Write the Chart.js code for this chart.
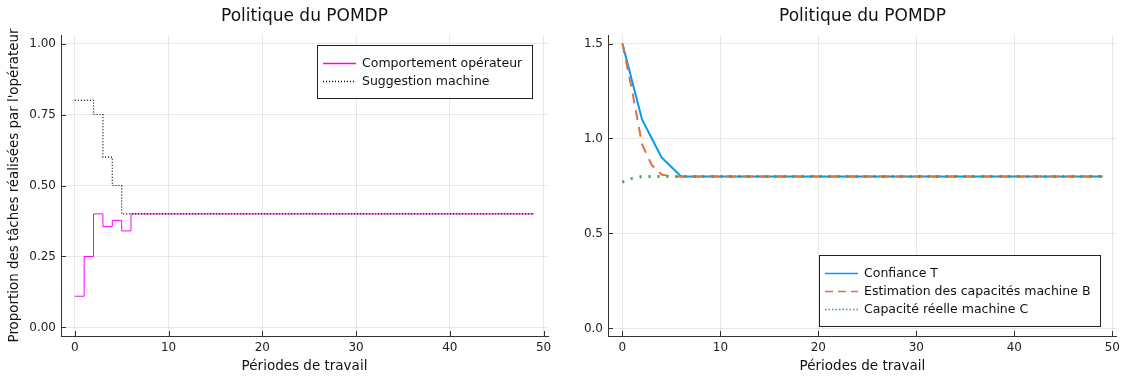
<!DOCTYPE html>
<html>
<head>
<meta charset="utf-8">
<script src="https://cdn.jsdelivr.net/npm/chart.js@4/dist/chart.umd.min.js"></script>
<style>
body { margin: 0; background: #fff; }
#wrap { display: flex; width: 1125px; height: 376px; }
canvas { display: block; }
</style>
</head>
<body>
<div id="wrap">
  <canvas id="leftChart" width="562" height="376"></canvas>
  <canvas id="rightChart" width="563" height="376"></canvas>
</div>
<script>
// periods 0..49
const periods = [
  0, 1, 2, 3, 4, 5, 6, 7, 8, 9,
  10, 11, 12, 13, 14, 15, 16, 17, 18, 19,
  20, 21, 22, 23, 24, 25, 26, 27, 28, 29,
  30, 31, 32, 33, 34, 35, 36, 37, 38, 39,
  40, 41, 42, 43, 44, 45, 46, 47, 48, 49
];

// left plot
const operatorValues = [
  0.11, 0.25, 0.40, 0.355, 0.377, 0.34, 0.40, 0.40, 0.40, 0.40,
  0.40, 0.40, 0.40, 0.40, 0.40, 0.40, 0.40, 0.40, 0.40, 0.40,
  0.40, 0.40, 0.40, 0.40, 0.40, 0.40, 0.40, 0.40, 0.40, 0.40,
  0.40, 0.40, 0.40, 0.40, 0.40, 0.40, 0.40, 0.40, 0.40, 0.40,
  0.40, 0.40, 0.40, 0.40, 0.40, 0.40, 0.40, 0.40, 0.40, 0.40
];
const suggestionValues = [
  0.80, 0.80, 0.75, 0.60, 0.50, 0.40, 0.40, 0.40, 0.40, 0.40,
  0.40, 0.40, 0.40, 0.40, 0.40, 0.40, 0.40, 0.40, 0.40, 0.40,
  0.40, 0.40, 0.40, 0.40, 0.40, 0.40, 0.40, 0.40, 0.40, 0.40,
  0.40, 0.40, 0.40, 0.40, 0.40, 0.40, 0.40, 0.40, 0.40, 0.40,
  0.40, 0.40, 0.40, 0.40, 0.40, 0.40, 0.40, 0.40, 0.40, 0.40
];

// right plot
const confianceT = [
  1.50, 1.30, 1.10, 1.00, 0.90, 0.85, 0.80, 0.80, 0.80, 0.80,
  0.80, 0.80, 0.80, 0.80, 0.80, 0.80, 0.80, 0.80, 0.80, 0.80,
  0.80, 0.80, 0.80, 0.80, 0.80, 0.80, 0.80, 0.80, 0.80, 0.80,
  0.80, 0.80, 0.80, 0.80, 0.80, 0.80, 0.80, 0.80, 0.80, 0.80,
  0.80, 0.80, 0.80, 0.80, 0.80, 0.80, 0.80, 0.80, 0.80, 0.80
];
const estimationB = [
  1.50, 1.25, 0.97, 0.86, 0.81, 0.80, 0.80, 0.80, 0.80, 0.80,
  0.80, 0.80, 0.80, 0.80, 0.80, 0.80, 0.80, 0.80, 0.80, 0.80,
  0.80, 0.80, 0.80, 0.80, 0.80, 0.80, 0.80, 0.80, 0.80, 0.80,
  0.80, 0.80, 0.80, 0.80, 0.80, 0.80, 0.80, 0.80, 0.80, 0.80,
  0.80, 0.80, 0.80, 0.80, 0.80, 0.80, 0.80, 0.80, 0.80, 0.80
];
const capaciteC = [
  0.77, 0.79, 0.80, 0.80, 0.80, 0.80, 0.80, 0.80, 0.80, 0.80,
  0.80, 0.80, 0.80, 0.80, 0.80, 0.80, 0.80, 0.80, 0.80, 0.80,
  0.80, 0.80, 0.80, 0.80, 0.80, 0.80, 0.80, 0.80, 0.80, 0.80,
  0.80, 0.80, 0.80, 0.80, 0.80, 0.80, 0.80, 0.80, 0.80, 0.80,
  0.80, 0.80, 0.80, 0.80, 0.80, 0.80, 0.80, 0.80, 0.80, 0.80
];

const xTicks = [0, 10, 20, 30, 40, 50];
const leftYTicks = [0, 0.25, 0.5, 0.75, 1.0];
const rightYTicks = [0, 0.5, 1.0, 1.5];

const FONT = "'DejaVu Sans', sans-serif";
Chart.defaults.font.family = FONT;
Chart.defaults.color = '#222';

function pts(values) {
  return periods.map((p, i) => ({ x: p, y: values[i] }));
}

// small inward tick marks on the axes, like the original
const axisMarks = {
  id: 'axisMarks',
  afterDraw(chart) {
    const ctx = chart.ctx;
    const a = chart.chartArea;
    ctx.save();
    ctx.strokeStyle = '#333';
    ctx.lineWidth = 1;
    chart.scales.x.ticks.forEach(t => {
      const px = Math.round(chart.scales.x.getPixelForValue(t.value)) + 0.5;
      ctx.beginPath();
      ctx.moveTo(px, a.bottom);
      ctx.lineTo(px, a.bottom - 5);
      ctx.stroke();
    });
    chart.scales.y.ticks.forEach(t => {
      const py = Math.round(chart.scales.y.getPixelForValue(t.value)) + 0.5;
      ctx.beginPath();
      ctx.moveTo(a.left, py);
      ctx.lineTo(a.left + 5, py);
      ctx.stroke();
    });
    ctx.restore();
  }
};

// title centred over the plot area
const plotTitle = {
  id: 'plotTitle',
  afterDraw(chart, args, opts) {
    const ctx = chart.ctx;
    const a = chart.chartArea;
    ctx.save();
    ctx.font = '17px ' + FONT;
    ctx.fillStyle = '#111';
    ctx.textAlign = 'center';
    ctx.textBaseline = 'middle';
    ctx.fillText(opts.text, (a.left + a.right) / 2, 17);
    ctx.restore();
  }
};

// boxed legend drawn inside the plot area
const boxLegend = {
  id: 'boxLegend',
  afterDraw(chart, args, opts) {
    const ctx = chart.ctx;
    const a = chart.chartArea;
    const sets = chart.data.datasets;
    ctx.save();
    ctx.font = '12.5px ' + FONT;
    let maxW = 0;
    sets.forEach(d => { maxW = Math.max(maxW, ctx.measureText(d.label).width); });
    const w = Math.round(45 + maxW + 10);
    const h = sets.length * 18 + 17;
    const right = Math.round(a.right - opts.dx);
    const left = right - w;
    const top = Math.round(opts.corner === 'top' ? a.top + opts.dy : a.bottom - opts.dy - h);
    ctx.fillStyle = '#fff';
    ctx.fillRect(left, top, w, h);
    ctx.strokeStyle = '#222';
    ctx.lineWidth = 1;
    ctx.strokeRect(left + 0.5, top + 0.5, w, h);
    sets.forEach((d, i) => {
      const y = top + 18 + i * 18;
      ctx.strokeStyle = d.borderColor;
      ctx.lineWidth = 1.5;
      ctx.setLineDash(d.legendDash || []);
      ctx.beginPath();
      ctx.moveTo(left + 6, y + 0.5);
      ctx.lineTo(left + 39, y + 0.5);
      ctx.stroke();
      ctx.setLineDash([]);
      ctx.fillStyle = '#111';
      ctx.textBaseline = 'middle';
      ctx.fillText(d.label, left + 45, y + 1);
    });
    ctx.restore();
  }
};

function scales(yTicks, yMin, yMax, yFmt, yTitle, yWidth) {
  const grid = { color: 'rgba(0,0,0,0.09)', drawTicks: false, lineWidth: 1 };
  const border = { display: true, color: '#333', width: 1 };
  return {
    x: {
      type: 'linear', min: -1.47, max: 50.47,
      afterBuildTicks: s => { s.ticks = xTicks.map(v => ({ value: v })); },
      afterFit: s => { s.height = 40; },
      grid, border,
      ticks: { font: { size: 12 }, padding: 5, maxRotation: 0, callback: v => String(v) },
      title: { display: true, text: 'Périodes de travail', font: { size: 13.5 }, color: '#111', padding: { top: 0, bottom: 1 } }
    },
    y: {
      type: 'linear', min: yMin, max: yMax,
      afterBuildTicks: s => { s.ticks = yTicks.map(v => ({ value: v })); },
      afterFit: s => { s.width = yWidth; },
      grid, border,
      ticks: { font: { size: 12 }, padding: 5, callback: v => v.toFixed(yFmt) },
      title: { display: !!yTitle, text: yTitle, font: { size: 13.4 }, color: '#111', padding: { top: 6, bottom: 0 } }
    }
  };
}

new Chart(document.getElementById('leftChart'), {
  type: 'line',
  data: {
    datasets: [
      { label: 'Comportement opérateur', data: pts(operatorValues), borderColor: '#ff00ff', borderWidth: 1, stepped: 'before', pointRadius: 0, order: 1 },
      { label: 'Suggestion machine', data: pts(suggestionValues), borderColor: '#000000', borderWidth: 1.2, borderDash: [1, 2], stepped: 'before', pointRadius: 0, order: 0, legendDash: [1, 2] }
    ]
  },
  options: {
    responsive: false, animation: false,
    layout: { padding: { left: 0, right: 14, top: 35, bottom: 0 } },
    scales: scales(leftYTicks, -0.03, 1.03, 2, "Proportion des tâches réalisées par l'opérateur", 61),
    plugins: {
      legend: { display: false }, tooltip: { enabled: false }, title: { display: false },
      plotTitle: { text: 'Politique du POMDP' },
      boxLegend: { corner: 'top', dx: 16, dy: 10 }
    }
  },
  plugins: [axisMarks, boxLegend, plotTitle]
});

new Chart(document.getElementById('rightChart'), {
  type: 'line',
  data: {
    datasets: [
      { label: 'Confiance T', data: pts(confianceT), borderColor: '#009af9', borderWidth: 2, pointRadius: 0, order: 2 },
      { label: 'Estimation des capacités machine B', data: pts(estimationB), borderColor: '#e26f46', borderWidth: 2, borderDash: [10, 7], pointRadius: 0, order: 1, legendDash: [8, 5] },
      { label: 'Capacité réelle machine C', data: pts(capaciteC), borderColor: '#3da44d', borderWidth: 3, borderDash: [2, 7], pointRadius: 0, order: 0, legendDash: [1.5, 2] }
    ]
  },
  options: {
    responsive: false, animation: false,
    layout: { padding: { left: 0, right: 6, top: 35, bottom: 0 } },
    scales: scales(rightYTicks, -0.04, 1.545, 1, '', 46),
    plugins: {
      legend: { display: false }, tooltip: { enabled: false }, title: { display: false },
      plotTitle: { text: 'Politique du POMDP' },
      boxLegend: { corner: 'bottom', dx: 17, dy: 10 }
    }
  },
  plugins: [axisMarks, boxLegend, plotTitle]
});
</script>
</body>
</html>
